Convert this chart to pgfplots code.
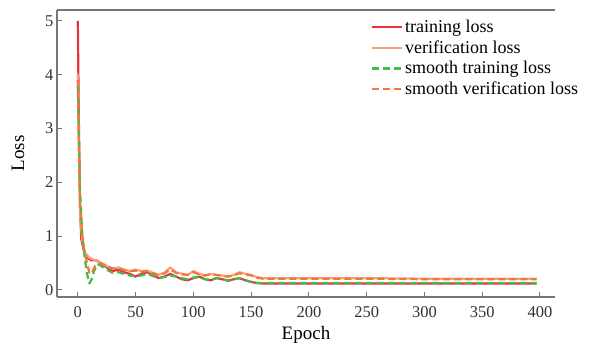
\documentclass[border=0pt]{standalone}
\usepackage{pgfplots}
\pgfplotsset{compat=1.18}
\usepackage{fontspec}
\setmainfont{Liberation Serif}
\definecolor{cTrain}{HTML}{E8333F}
\definecolor{cVal}{HTML}{F5A27A}
\definecolor{cSTrain}{HTML}{3DBE4A}
\definecolor{cSVal}{HTML}{F07838}
\definecolor{cAxis}{HTML}{767676}
\begin{document}
\begin{tikzpicture}
\useasboundingbox (-57bp,-46bp) rectangle (541bp,297bp);
\begin{axis}[
  at={(0,0)}, anchor=south west,
  scale only axis, width=498bp, height=287bp,
  xmin=-18, xmax=413, ymin=-0.13, ymax=5.2,
  axis x line=box, axis y line=left,
  xtick pos=bottom, ytick pos=left,
  axis line style={-, cAxis, line width=1.6bp},
  xtick={0,50,...,400}, ytick={0,1,...,5},
  tick style={cAxis, line width=1bp},
  tick align=inside, major tick length=5bp,
  /pgf/number format/assume math mode=true,
  tick label style={font=\fontsize{16.5bp}{18bp}\selectfont, text=black!80},
  xticklabel style={yshift=-6bp},
  xlabel={Epoch}, ylabel={Loss},
  label style={font=\fontsize{19bp}{20bp}\selectfont},
  xlabel style={yshift=-2bp},
  ylabel style={yshift=14bp},
  legend style={at={(0.628,0.975)}, anchor=north west, draw=none, fill=none,
    font=\fontsize{18bp}{19bp}\selectfont, row sep=2.5bp, inner sep=1bp},
  legend cell align=left,
  legend image code/.code={\draw[#1] (0bp,0bp) -- (30bp,0bp);},
  every axis plot/.append style={line width=2.2bp, line join=round},
  clip=false,
]
\addplot[cTrain] coordinates {
(0,5.0) (1,3.0) (2,1.5) (3,0.95) (5,0.75) (8,0.6) (12,0.55) (16,0.55) (20,0.5)
(25,0.42) (30,0.35) (35,0.38) (40,0.33) (45,0.3) (50,0.25) (55,0.3) (60,0.33)
(65,0.28) (70,0.22) (75,0.25) (80,0.3) (85,0.25) (90,0.2) (95,0.18) (100,0.22)
(105,0.25) (110,0.2) (115,0.18) (120,0.22) (125,0.2) (130,0.17) (135,0.2)
(140,0.22) (145,0.18) (150,0.15) (155,0.13) (160,0.12) (200,0.12) (250,0.12)
(300,0.12) (350,0.12) (397,0.12)};
\addlegendentry{training loss}
\addplot[cVal] coordinates {
(0,4.0) (1,2.5) (2,1.4) (4,0.9) (6,0.7) (10,0.6) (15,0.55) (20,0.5) (25,0.45)
(30,0.4) (35,0.42) (40,0.38) (45,0.35) (50,0.38) (55,0.35) (60,0.36) (65,0.32)
(70,0.28) (75,0.32) (80,0.42) (85,0.33) (90,0.3) (95,0.28) (100,0.35) (105,0.3)
(110,0.27) (115,0.3) (120,0.28) (125,0.27) (130,0.25) (135,0.28) (140,0.33)
(145,0.3) (150,0.28) (155,0.24) (160,0.22) (200,0.22) (250,0.22) (300,0.21)
(350,0.21) (397,0.21)};
\addlegendentry{verification loss}
\addplot[cSTrain, dash pattern=on 7bp off 4bp] coordinates {
(0,3.8) (1,2.8) (2,1.8) (4,1.0) (6,0.6) (8,0.3) (10,0.12) (12,0.2) (14,0.35)
(17,0.48) (20,0.45) (25,0.38) (30,0.32) (35,0.33) (40,0.3) (45,0.27) (50,0.25)
(55,0.27) (60,0.3) (65,0.26) (70,0.22) (75,0.24) (80,0.27) (85,0.25) (90,0.22)
(95,0.2) (100,0.23) (105,0.24) (110,0.2) (115,0.19) (120,0.22) (125,0.2)
(130,0.18) (135,0.2) (140,0.22) (145,0.18) (150,0.15) (155,0.13) (160,0.13)
(200,0.13) (250,0.13) (300,0.13) (350,0.13) (397,0.13)};
\addlegendentry{smooth training loss}
\addplot[cSVal, dash pattern=on 7bp off 4bp] coordinates {
(0,3.9) (1,2.7) (2,1.6) (4,1.0) (6,0.7) (8,0.5) (10,0.32) (12,0.3) (15,0.45)
(20,0.5) (25,0.44) (30,0.4) (35,0.4) (40,0.37) (45,0.35) (50,0.36) (55,0.34)
(60,0.35) (65,0.31) (70,0.28) (75,0.31) (80,0.38) (85,0.32) (90,0.29) (95,0.28)
(100,0.33) (105,0.29) (110,0.27) (115,0.29) (120,0.28) (125,0.26) (130,0.25)
(135,0.27) (140,0.31) (145,0.29) (150,0.27) (155,0.23) (160,0.21) (200,0.21)
(250,0.21) (300,0.2) (350,0.2) (397,0.2)};
\addlegendentry{smooth verification loss}
\end{axis}
\end{tikzpicture}
\end{document}
